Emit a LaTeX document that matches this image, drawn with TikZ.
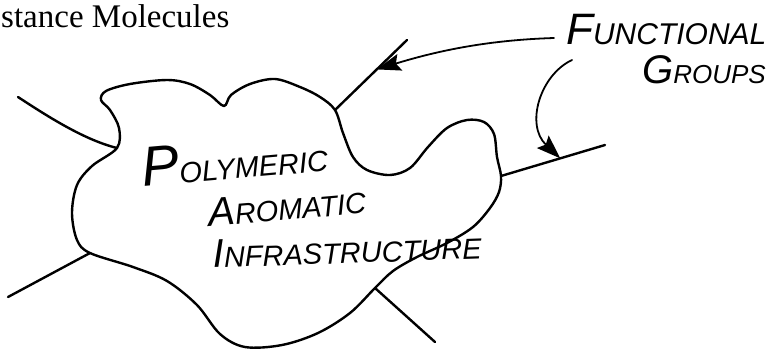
\documentclass[tikz,border=0pt]{standalone}
\usepackage{fontspec}
\setmainfont{Liberation Serif}
\newfontfamily\penfont{Liberation Sans}
\usepackage{tikz}
\usetikzlibrary{arrows.meta}

% a bigger first letter, as in the hand lettering
\newcommand\initcap[2]{{\fontsize{#1}{#1}\selectfont #2}}

\begin{document}
\begin{tikzpicture}[x=1pt, y=-1pt, line width=2.4pt, line cap=round, line join=round,
  every node/.style={inner sep=0pt},
  pen/.style={font=\penfont\itshape\fontsize{29}{29}\selectfont, anchor=base west},
  pointer/.style={line width=1.8pt, -{Stealth[length=24pt,width=17pt,inset=4pt]}}]
\useasboundingbox (0,0) rectangle (770,349);

\node[anchor=base west, font=\fontsize{33}{33}\selectfont] (title) at (0,27) {stance Molecules};

% the aromatic blob
\draw plot[smooth cycle, tension=0.55] coordinates {
  (117,148) (119,128) (110,110) (101,100) (106,91) (130,84) (167,80) (190,84)
  (210,95) (224,106) (231,95) (250,84) (275,79) (300,87) (320,97) (335,110)
  (343,133) (353,157) (367,170) (390,175) (410,168) (428,147) (447,128) (467,120)
  (484,122) (494,134) (497,157) (501,176) (499,192) (490,208) (473,227) (447,243)
  (417,257) (393,271) (375,288) (350,313) (318,333) (282,345) (245,347) (220,334)
  (197,305) (167,281) (133,267) (90,253) (77,240) (72,213) (77,185) (92,166)};

\coordinate (jleft) at (117,148);
\coordinate (jtop) at (335,110);
\coordinate (jright) at (501,176);
\coordinate (jbotright) at (375,288);
\coordinate (jbotleft) at (90,253);

\coordinate (eleft) at (18,97);
\coordinate (etop) at (407,40);
\coordinate (eright) at (605,145);
\coordinate (ebotright) at (435,342);
\coordinate (ebotleft) at (8,297);

% side chains
\draw (jleft) .. controls (85,140) and (50,118) .. (eleft);
\draw (jtop) -- (etop);
\draw (jright) -- (eright);
\draw (jbotright) -- (ebotright);
\draw (jbotleft) -- (ebotleft);

\path (jtop) -- (etop) coordinate[pos=0.58] (tiptop);
\path (jright) -- (eright) coordinate[pos=0.57] (tipright);

% hand lettering
\node[pen] (poly) at (142,187) [rotate=5] {\initcap{56}{P}OLYMERIC};
\node[pen] (arom) at (208,227) [rotate=5] {\initcap{40}{A}ROMATIC};
\node[pen] (infra) at (212,268) [rotate=2] {\initcap{40}{I}NFRASTRUCTURE};
\node[pen, font=\penfont\itshape\fontsize{30}{30}\selectfont] (func) at (565,44) {\initcap{44}{F}UNCTIONAL};
\node[pen, font=\penfont\itshape\fontsize{26}{26}\selectfont] (groups) at (641,83) {\initcap{40}{G}ROUPS};

\coordinate (fromfunc) at (554,38);
\coordinate (fromgroups) at (572,60);

\draw[pointer] (fromfunc) .. controls (490,40) and (440,50) .. (tiptop);
\draw[pointer] (fromgroups) .. controls (540,75) and (525,125) .. (tipright);
\end{tikzpicture}
\end{document}
